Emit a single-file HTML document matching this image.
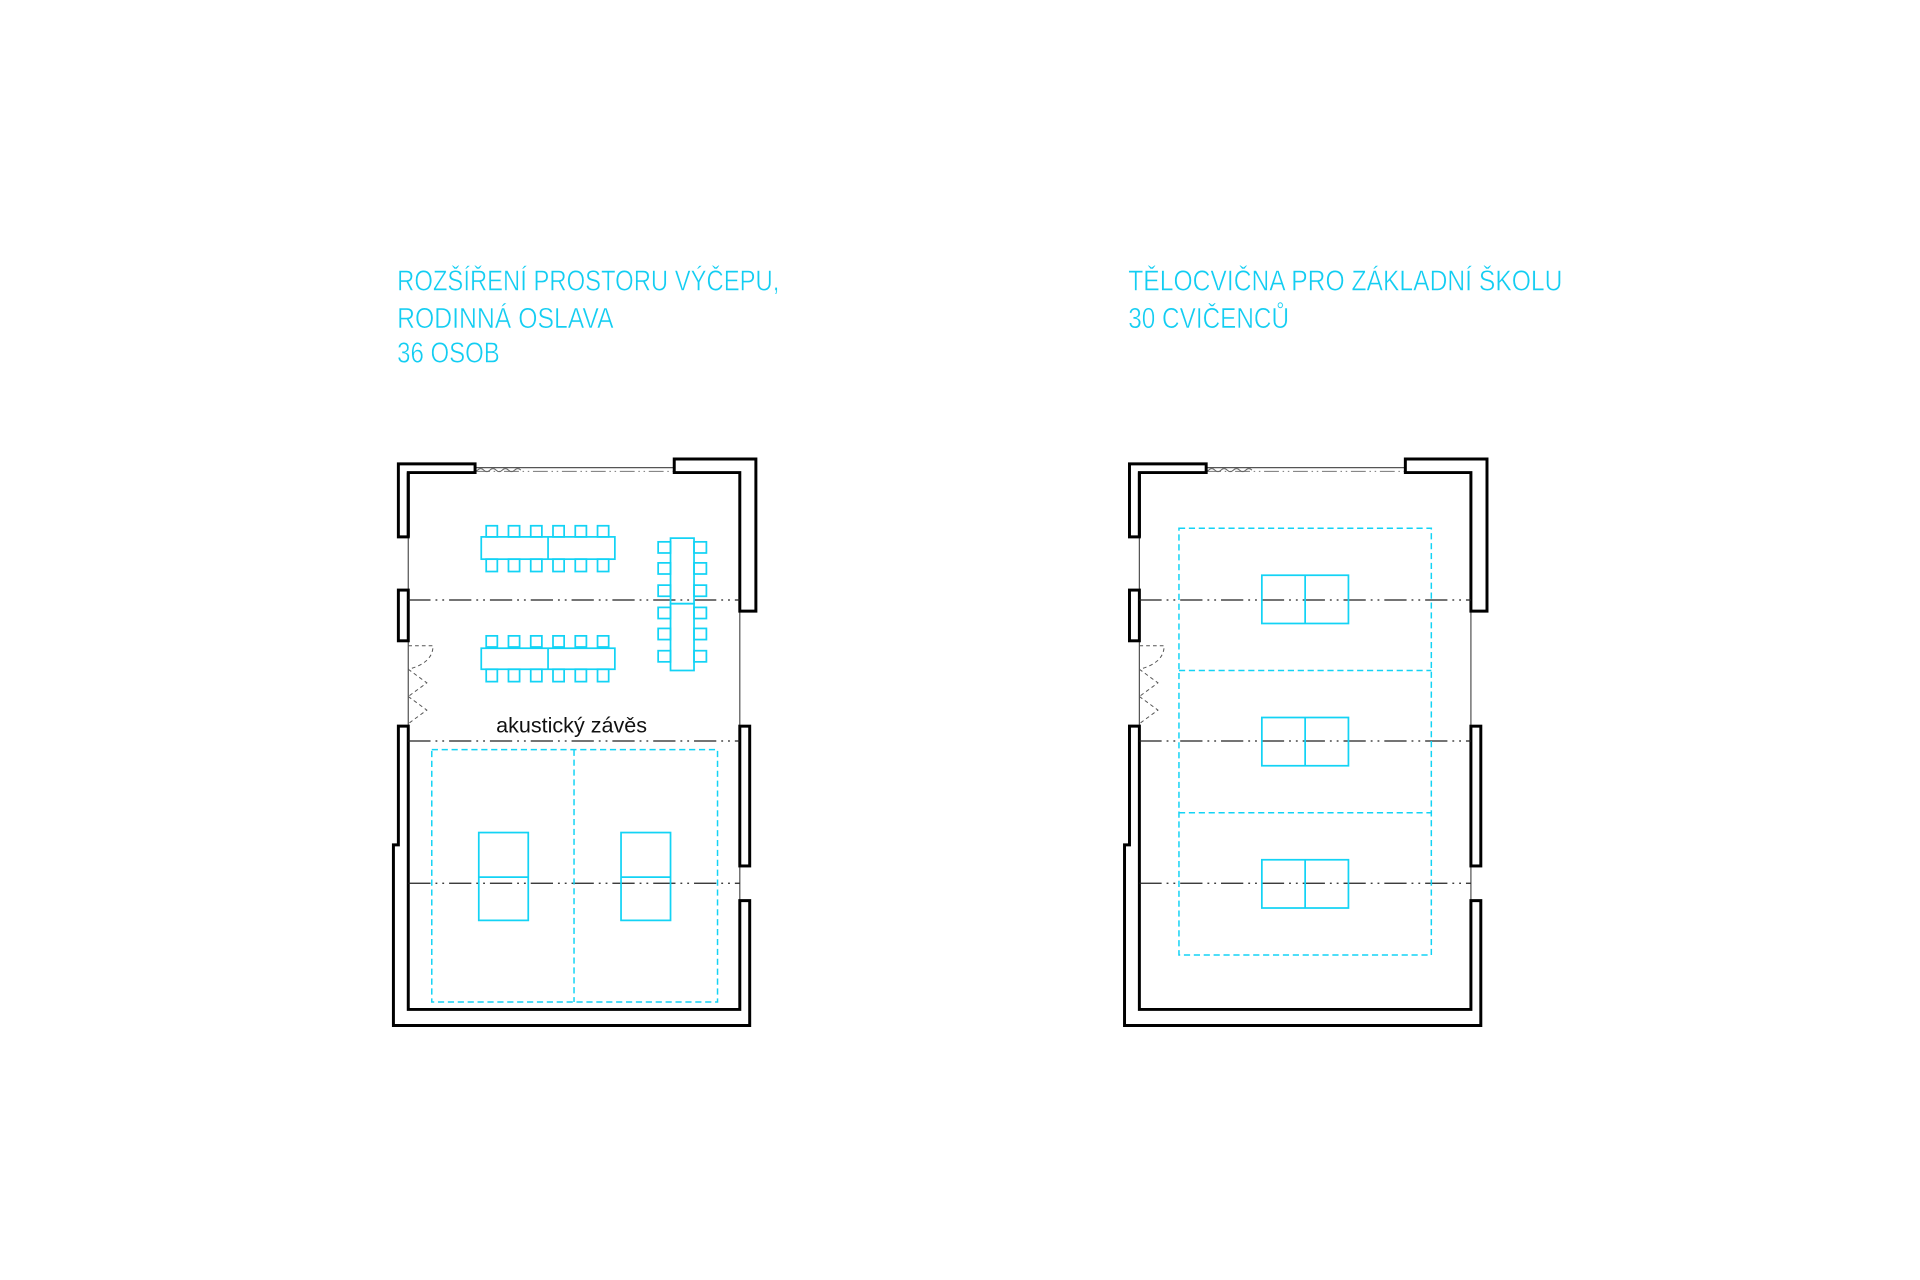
<!DOCTYPE html>
<html><head><meta charset="utf-8"><style>html,body{margin:0;padding:0;background:#fff}svg{display:block}</style></head>
<body>
<svg width="1920" height="1280" viewBox="0 0 1552 1034.7" xmlns="http://www.w3.org/2000/svg">
<defs>
<g id="plan">
  <g stroke="#555" stroke-width="1" fill="none">
    <line x1="384" y1="378" x2="545" y2="378"/>
    <line x1="330" y1="434" x2="330" y2="587"/>
    <line x1="598" y1="494" x2="598" y2="587"/>
    <line x1="598" y1="700" x2="598" y2="728"/>
  </g>
  <line x1="384" y1="381" x2="545" y2="381" stroke="#777" stroke-width="0.8" stroke-dasharray="12 3 1.2 3 1.2 3"/>
  <path d="M346 380 q2.5 -2.5 5 0 t5 0 t5 0 t5 0 t5 0 t5 0 t5 0 t5 0 t5 0 t5 0 t5 0 t5 0 t5 0 t5 0 t5 0" stroke="#666" stroke-width="0.8" fill="none"/>
  <g stroke="#555" stroke-width="0.8" fill="none" stroke-dasharray="3 2.5">
    <path d="M330 522 L350 522 Q350 536 330 541"/>
    <path d="M330 541 L345 552 L330 563"/>
    <path d="M330 563 L345 574 L330 585"/>
  </g>
  <g stroke="#000" stroke-width="2.4" fill="#fff">
    <path d="M330 587 L322 587 L322 683 L318 683 L318 829 L606 829 L606 728 L598 728 L598 816 L330 816 Z"/>
    <path d="M322 375 L384 375 L384 382 L330 382 L330 434 L322 434 Z"/>
    <rect x="322" y="477" width="8" height="41"/>
    <path d="M545 371 L611 371 L611 494 L598 494 L598 382 L545 382 Z"/>
    <rect x="598" y="587" width="8" height="113"/>
  </g>
  <line x1="330" y1="382" x2="330" y2="434" stroke="#000" stroke-width="2.4"/>
  <g stroke="#222" stroke-width="1" stroke-dasharray="18 4 1.5 4 1.5 4">
    <line x1="330" y1="485" x2="598" y2="485"/>
    <line x1="330" y1="599" x2="598" y2="599"/>
    <line x1="330" y1="714" x2="598" y2="714"/>
  </g>
</g>
</defs>

<use href="#plan"/>
<use href="#plan" transform="translate(591,0)"/>

<g stroke="#13d3f5" stroke-width="1.4" fill="none">
  <rect x="389" y="434" width="108" height="18"/>
  <line x1="443" y1="434" x2="443" y2="452"/>
  <g id="chairsA">
    <rect x="393" y="425" width="9" height="9"/><rect x="411" y="425" width="9" height="9"/><rect x="429" y="425" width="9" height="9"/>
    <rect x="447" y="425" width="9" height="9"/><rect x="465" y="425" width="9" height="9"/><rect x="483" y="425" width="9" height="9"/>
    <rect x="393" y="452" width="9" height="10"/><rect x="411" y="452" width="9" height="10"/><rect x="429" y="452" width="9" height="10"/>
    <rect x="447" y="452" width="9" height="10"/><rect x="465" y="452" width="9" height="10"/><rect x="483" y="452" width="9" height="10"/>
  </g>
  <rect x="389" y="524" width="108" height="17"/>
  <line x1="443" y1="524" x2="443" y2="541"/>
  <use href="#chairsA" transform="translate(0,89)"/>
  <rect x="542" y="435" width="19" height="53"/>
  <rect x="542" y="488" width="19" height="54"/>
  <g>
    <rect x="532" y="438" width="10" height="9"/><rect x="532" y="455" width="10" height="9"/><rect x="532" y="473" width="10" height="9"/>
    <rect x="532" y="491" width="10" height="9"/><rect x="532" y="508" width="10" height="9"/><rect x="532" y="526" width="10" height="9"/>
    <rect x="561" y="438" width="10" height="9"/><rect x="561" y="455" width="10" height="9"/><rect x="561" y="473" width="10" height="9"/>
    <rect x="561" y="491" width="10" height="9"/><rect x="561" y="508" width="10" height="9"/><rect x="561" y="526" width="10" height="9"/>
  </g>
  <rect x="387" y="673" width="40" height="71"/><line x1="387" y1="709" x2="427" y2="709"/>
  <rect x="502" y="673" width="40" height="71"/><line x1="502" y1="709" x2="542" y2="709"/>
</g>
<g stroke="#13d3f5" stroke-width="1.2" fill="none" stroke-dasharray="5 3">
  <rect x="349" y="606" width="231" height="204"/>
  <line x1="464" y1="606" x2="464" y2="810"/>
</g>
<text x="462" y="592" text-anchor="middle" font-family="Liberation Sans, sans-serif" font-size="17" fill="#111" textLength="122" lengthAdjust="spacingAndGlyphs">akustický závěs</text>

<g stroke="#13d3f5" stroke-width="1.2" fill="none" stroke-dasharray="5 3">
  <rect x="953" y="427" width="204" height="345"/>
  <line x1="953" y1="542" x2="1157" y2="542"/>
  <line x1="953" y1="657" x2="1157" y2="657"/>
</g>
<g stroke="#13d3f5" stroke-width="1.4" fill="none">
  <rect x="1020" y="465" width="70" height="39"/><line x1="1055" y1="465" x2="1055" y2="504"/>
  <rect x="1020" y="580" width="70" height="39"/><line x1="1055" y1="580" x2="1055" y2="619"/>
  <rect x="1020" y="695" width="70" height="39"/><line x1="1055" y1="695" x2="1055" y2="734"/>
</g>

<g font-family="Liberation Sans, sans-serif" font-size="23" fill="#12cdf2" stroke="#fff" stroke-width="0.4">
  <text x="321" y="235" textLength="309" lengthAdjust="spacingAndGlyphs">ROZŠÍŘENÍ PROSTORU VÝČEPU,</text>
  <text x="321" y="265" textLength="175" lengthAdjust="spacingAndGlyphs">RODINNÁ OSLAVA</text>
  <text x="321" y="293" textLength="83" lengthAdjust="spacingAndGlyphs">36 OSOB</text>
  <text x="912" y="235" textLength="351" lengthAdjust="spacingAndGlyphs">TĚLOCVIČNA PRO ZÁKLADNÍ ŠKOLU</text>
  <text x="912" y="265" textLength="130" lengthAdjust="spacingAndGlyphs">30 CVIČENCŮ</text>
</g>
</svg>
</body></html>
